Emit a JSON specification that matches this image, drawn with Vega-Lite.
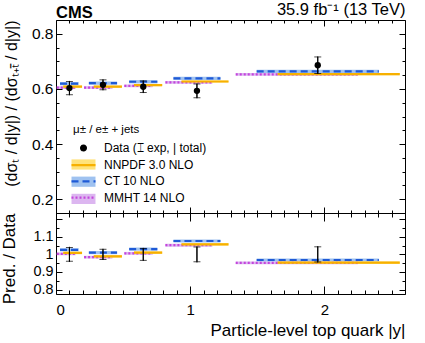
{
  "$schema": "https://vega.github.io/schema/vega-lite/v6.json",
  "padding": {"left": 0, "top": 1, "right": 5, "bottom": 3},
  "bounds": "flush",
  "spacing": 0,
  "config": {
    "font": "Liberation Sans",
    "view": {"stroke": "black", "strokeWidth": 1},
    "axis": {"domain": false, "grid": false, "tickColor": "black", "labelColor": "black", "titleColor": "black", "labelFont": "Liberation Sans", "titleFont": "Liberation Sans", "titleFontWeight": "normal", "tickWidth": 1}
  },
  "datasets": {
    "pred": [
      {"lo": 0, "hi": 0.2, "model": "MMHT 14 NLO", "val": 0.605, "dn": 0.600, "up": 0.610, "r": 1.003, "rdn": 0.995, "rup": 1.011},
      {"lo": 0.2, "hi": 0.5, "model": "MMHT 14 NLO", "val": 0.605, "dn": 0.600, "up": 0.610, "r": 0.984, "rdn": 0.976, "rup": 0.992},
      {"lo": 0.5, "hi": 0.8, "model": "MMHT 14 NLO", "val": 0.611, "dn": 0.606, "up": 0.616, "r": 1.006, "rdn": 0.998, "rup": 1.014},
      {"lo": 0.8, "hi": 1.3, "model": "MMHT 14 NLO", "val": 0.624, "dn": 0.619, "up": 0.629, "r": 1.052, "rdn": 1.044, "rup": 1.060},
      {"lo": 1.3, "hi": 2.6, "model": "MMHT 14 NLO", "val": 0.653, "dn": 0.648, "up": 0.658, "r": 0.952, "rdn": 0.944, "rup": 0.960},
      {"lo": 0, "hi": 0.2, "model": "CT 10 NLO", "val": 0.619, "dn": 0.613, "up": 0.625, "r": 1.026, "rdn": 1.017, "rup": 1.035},
      {"lo": 0.2, "hi": 0.5, "model": "CT 10 NLO", "val": 0.621, "dn": 0.615, "up": 0.627, "r": 1.010, "rdn": 1.001, "rup": 1.019},
      {"lo": 0.5, "hi": 0.8, "model": "CT 10 NLO", "val": 0.626, "dn": 0.620, "up": 0.632, "r": 1.030, "rdn": 1.021, "rup": 1.039},
      {"lo": 0.8, "hi": 1.3, "model": "CT 10 NLO", "val": 0.638, "dn": 0.632, "up": 0.644, "r": 1.076, "rdn": 1.067, "rup": 1.085},
      {"lo": 1.3, "hi": 2.6, "model": "CT 10 NLO", "val": 0.664, "dn": 0.658, "up": 0.670, "r": 0.968, "rdn": 0.959, "rup": 0.977},
      {"lo": 0, "hi": 0.2, "model": "NNPDF 3.0 NLO", "val": 0.608, "dn": 0.604, "up": 0.612, "r": 1.008, "rdn": 1.001, "rup": 1.015},
      {"lo": 0.2, "hi": 0.5, "model": "NNPDF 3.0 NLO", "val": 0.608, "dn": 0.604, "up": 0.612, "r": 0.989, "rdn": 0.982, "rup": 0.996},
      {"lo": 0.5, "hi": 0.8, "model": "NNPDF 3.0 NLO", "val": 0.614, "dn": 0.610, "up": 0.618, "r": 1.010, "rdn": 1.003, "rup": 1.017},
      {"lo": 0.8, "hi": 1.3, "model": "NNPDF 3.0 NLO", "val": 0.627, "dn": 0.623, "up": 0.631, "r": 1.057, "rdn": 1.050, "rup": 1.064},
      {"lo": 1.3, "hi": 2.6, "model": "NNPDF 3.0 NLO", "val": 0.654, "dn": 0.650, "up": 0.658, "r": 0.953, "rdn": 0.946, "rup": 0.960}
    ],
    "meas": [
      {"x": 0.1, "val": 0.603, "elo": 0.579, "ehi": 0.627, "tlo": 0.577, "thi": 0.629, "relo": 0.961, "rehi": 1.039, "rtlo": 0.957, "rthi": 1.043},
      {"x": 0.35, "val": 0.615, "elo": 0.597, "ehi": 0.633, "tlo": 0.595, "thi": 0.635, "relo": 0.971, "rehi": 1.029, "rtlo": 0.968, "rthi": 1.032},
      {"x": 0.65, "val": 0.608, "elo": 0.587, "ehi": 0.629, "tlo": 0.585, "thi": 0.631, "relo": 0.966, "rehi": 1.034, "rtlo": 0.963, "rthi": 1.037},
      {"x": 1.05, "val": 0.593, "elo": 0.568, "ehi": 0.618, "tlo": 0.566, "thi": 0.620, "relo": 0.958, "rehi": 1.042, "rtlo": 0.954, "rthi": 1.046},
      {"x": 1.95, "val": 0.686, "elo": 0.656, "ehi": 0.716, "tlo": 0.654, "thi": 0.718, "relo": 0.957, "rehi": 1.043, "rtlo": 0.953, "rthi": 1.047}
    ]
  },
  "vconcat": [
    {
      "width": 349,
      "height": 193,
      "title": {"text": "CMS", "anchor": "start", "fontSize": 16.5, "fontWeight": "bold", "font": "Liberation Sans", "offset": -20, "frame": "group"},
      "resolve": {"axis": {"x": "independent", "y": "independent"}},
      "layer": [
        {
          "data": {"name": "pred"},
          "transform": [
            {"calculate": "datum.lo + (datum.model == 'MMHT 14 NLO' ? 0.03 : datum.model == 'CT 10 NLO' ? 0.15 : 0.27) * (datum.hi - datum.lo)", "as": "xa"},
            {"calculate": "datum.xa + 0.7 * (datum.hi - datum.lo)", "as": "xb"}
          ],
          "mark": {"type": "rect"},
          "encoding": {
            "x": {"field": "xa", "type": "quantitative", "scale": {"domain": [0, 2.6], "nice": false, "zero": false},
              "axis": {"orient": "bottom", "title": null, "labels": false, "values": [0,0.1,0.2,0.3,0.4,0.5,0.6,0.7,0.8,0.9,1,1.1,1.2,1.3,1.4,1.5,1.6,1.7,1.8,1.9,2,2.1,2.2,2.3,2.4,2.5,2.6],
                "tickSize": {"condition": {"test": "abs(datum.value - round(datum.value)) < 0.001", "value": -6}, "value": -3}}},
            "x2": {"field": "xb"},
            "y": {"field": "dn", "type": "quantitative", "scale": {"domain": [0.15, 0.85], "nice": false, "zero": false},
              "axis": {"orient": "left", "title": "(dσₜ / d|y|) / (dσₜ₊ₜ̄ / d|y|)", "titleFontSize": 16, "titleAnchor": "end", "titlePadding": 12,
                "values": [0.2,0.25,0.3,0.35,0.4,0.45,0.5,0.55,0.6,0.65,0.7,0.75,0.8],
                "labelExpr": "abs(datum.value*5 - round(datum.value*5)) < 0.001 ? format(datum.value, '.1f') : ''",
                "labelFontSize": 15.5, "labelPadding": 9,
                "tickSize": {"condition": {"test": "abs(datum.value*5 - round(datum.value*5)) < 0.001", "value": -6}, "value": -3}}},
            "y2": {"field": "up"},
            "fill": {"field": "model", "type": "nominal",
              "scale": {"domain": ["NNPDF 3.0 NLO", "CT 10 NLO", "MMHT 14 NLO"], "range": ["#ffe27a", "#9fc2f0", "#dcb6f0"]},
              "legend": {"orient": "none", "legendX": 17, "legendY": 137, "padding": 0, "title": null, "labelFontSize": 12, "labelExpr": "''",
                "symbolType": "M-2,-0.85H2V0.85H-2Z", "symbolSize": 144, "symbolStrokeWidth": 2.2, "symbolStrokeColor": "transparent", "symbolOpacity": 1, "symbolOffset": 3, "rowPadding": -1.8, "labelOffset": 13,
                "encode": {"symbols": {"update": {"stroke": {"value": "transparent"}}}}}}
          }
        },
        {
          "data": {"name": "pred"},
          "transform": [
            {"calculate": "datum.lo + (datum.model == 'MMHT 14 NLO' ? 0.03 : datum.model == 'CT 10 NLO' ? 0.15 : 0.27) * (datum.hi - datum.lo)", "as": "xa"},
            {"calculate": "datum.xa + 0.7 * (datum.hi - datum.lo)", "as": "xb"}
          ],
          "mark": {"type": "rule"},
          "encoding": {
            "x": {"field": "xa", "type": "quantitative",
              "axis": {"orient": "top", "title": "35.9 fb⁻¹ (13 TeV)", "titleAnchor": "end", "titleFontSize": 16.5, "titlePadding": 2, "labels": false,
                "values": [0,0.1,0.2,0.3,0.4,0.5,0.6,0.7,0.8,0.9,1,1.1,1.2,1.3,1.4,1.5,1.6,1.7,1.8,1.9,2,2.1,2.2,2.3,2.4,2.5,2.6],
                "tickSize": {"condition": {"test": "abs(datum.value - round(datum.value)) < 0.001", "value": -6}, "value": -3}}},
            "x2": {"field": "xb"},
            "y": {"field": "val", "type": "quantitative",
              "axis": {"orient": "right", "title": null, "labels": false,
                "values": [0.2,0.25,0.3,0.35,0.4,0.45,0.5,0.55,0.6,0.65,0.7,0.75,0.8],
                "tickSize": {"condition": {"test": "abs(datum.value*5 - round(datum.value*5)) < 0.001", "value": -6}, "value": -3}}},
            "stroke": {"field": "model", "type": "nominal",
              "scale": {"domain": ["Data (⌶ exp, | total)", "NNPDF 3.0 NLO", "CT 10 NLO", "MMHT 14 NLO"], "range": ["black", "#f7b000", "#1f5ad6", "#c445dc"]},
              "legend": {"orient": "none", "legendX": 17, "legendY": 103.5, "padding": 0, "title": "μ± / e± + jets", "titleFontSize": 11.5, "titleFontWeight": "normal", "titleFont": "Liberation Sans", "titlePadding": 5.5,
                "labelFontSize": 12, "labelFont": "Liberation Sans", "labelColor": "black", "symbolType": "M-2,0H2", "symbolSize": 144, "symbolStrokeWidth": 2.2, "symbolOffset": 3, "rowPadding": 2.2, "labelOffset": 13,
                "encode": {"symbols": {"update": {
                  "shape": {"signal": "datum.value == 'Data (⌶ exp, | total)' ? 'M-0.4,0A0.4,0.4 0 1,0 0.4,0A0.4,0.4 0 1,0 -0.4,0Z' : 'M-2,0H2'"},
                  "fill": {"signal": "datum.value == 'Data (⌶ exp, | total)' ? 'black' : 'transparent'"},
                  "strokeDash": {"signal": "datum.value == 'CT 10 NLO' ? [7,4] : datum.value == 'MMHT 14 NLO' ? [2,2] : [1,0]"}
                }}}}},
            "strokeDash": {"field": "model", "type": "nominal", "scale": {"domain": ["NNPDF 3.0 NLO", "CT 10 NLO", "MMHT 14 NLO"], "range": [[1, 0], [7, 4], [2, 2]]}, "legend": null},
            "strokeWidth": {"field": "model", "type": "nominal", "scale": {"domain": ["NNPDF 3.0 NLO", "CT 10 NLO", "MMHT 14 NLO"], "range": [2.2, 2.2, 2.8]}, "legend": null}
          }
        },
        {
          "data": {"name": "meas"},
          "mark": {"type": "rule", "color": "black", "strokeWidth": 1},
          "encoding": {
            "x": {"field": "x", "type": "quantitative", "axis": null},
            "y": {"field": "tlo", "type": "quantitative", "axis": null},
            "y2": {"field": "thi"}
          }
        },
        {
          "data": {"name": "meas"},
          "mark": {"type": "errorbar", "ticks": {"size": 7, "thickness": 1, "color": "black"}, "rule": {"color": "black", "strokeWidth": 1}},
          "encoding": {
            "x": {"field": "x", "type": "quantitative", "axis": null},
            "y": {"field": "elo", "type": "quantitative", "axis": null},
            "y2": {"field": "ehi"}
          }
        },
        {
          "data": {"name": "meas"},
          "mark": {"type": "point", "shape": "circle", "filled": true, "color": "black", "opacity": 1, "size": 40},
          "encoding": {
            "x": {"field": "x", "type": "quantitative", "axis": null},
            "y": {"field": "val", "type": "quantitative", "axis": null}
          }
        }
      ]
    },
    {
      "width": 349,
      "height": 81,
      "resolve": {"axis": {"x": "independent", "y": "independent"}},
      "layer": [
        {
          "data": {"name": "pred"},
          "transform": [
            {"calculate": "datum.lo + (datum.model == 'MMHT 14 NLO' ? 0.03 : datum.model == 'CT 10 NLO' ? 0.15 : 0.27) * (datum.hi - datum.lo)", "as": "xa"},
            {"calculate": "datum.xa + 0.7 * (datum.hi - datum.lo)", "as": "xb"}
          ],
          "mark": {"type": "rect"},
          "encoding": {
            "x": {"field": "xa", "type": "quantitative", "scale": {"domain": [0, 2.6], "nice": false, "zero": false},
              "axis": {"orient": "bottom", "title": "Particle-level top quark |y|", "titleAnchor": "end", "titleFontSize": 17, "titlePadding": 5,
                "values": [0,0.1,0.2,0.3,0.4,0.5,0.6,0.7,0.8,0.9,1,1.1,1.2,1.3,1.4,1.5,1.6,1.7,1.8,1.9,2,2.1,2.2,2.3,2.4,2.5,2.6],
                "labelExpr": "abs(datum.value - round(datum.value)) < 0.001 ? format(datum.value, 'd') : ''",
                "labelFontSize": 15, "labelPadding": 16,
                "tickSize": {"condition": {"test": "abs(datum.value - round(datum.value)) < 0.001", "value": -8}, "value": -4}}},
            "x2": {"field": "xb"},
            "y": {"field": "rdn", "type": "quantitative", "scale": {"domain": [0.775, 1.235], "nice": false, "zero": false},
              "axis": {"orient": "left", "title": "Pred. / Data", "titleFontSize": 17, "titleAnchor": "end", "titlePadding": 14,
                "values": [0.8,0.85,0.9,0.95,1,1.05,1.1,1.15,1.2],
                "labelExpr": "abs(datum.value*10 - round(datum.value*10)) < 0.001 && datum.value < 1.15 ? format(datum.value, '~g') : ''",
                "labelFontSize": 14.4, "labelPadding": 9,
                "tickSize": {"condition": {"test": "abs(datum.value*10 - round(datum.value*10)) < 0.001", "value": -6}, "value": -3}}},
            "y2": {"field": "rup"},
            "fill": {"field": "model", "type": "nominal", "scale": {"domain": ["NNPDF 3.0 NLO", "CT 10 NLO", "MMHT 14 NLO"], "range": ["#ffe27a", "#9fc2f0", "#dcb6f0"]}, "legend": null}
          }
        },
        {
          "mark": {"type": "rule", "color": "black", "strokeWidth": 1},
          "encoding": {"y": {"datum": 1, "type": "quantitative", "axis": null}}
        },
        {
          "data": {"name": "pred"},
          "transform": [
            {"calculate": "datum.lo + (datum.model == 'MMHT 14 NLO' ? 0.03 : datum.model == 'CT 10 NLO' ? 0.15 : 0.27) * (datum.hi - datum.lo)", "as": "xa"},
            {"calculate": "datum.xa + 0.7 * (datum.hi - datum.lo)", "as": "xb"}
          ],
          "mark": {"type": "rule"},
          "encoding": {
            "x": {"field": "xa", "type": "quantitative",
              "axis": {"orient": "top", "title": null, "labels": false,
                "values": [0,0.1,0.2,0.3,0.4,0.5,0.6,0.7,0.8,0.9,1,1.1,1.2,1.3,1.4,1.5,1.6,1.7,1.8,1.9,2,2.1,2.2,2.3,2.4,2.5,2.6],
                "tickSize": {"condition": {"test": "abs(datum.value - round(datum.value)) < 0.001", "value": -8}, "value": -4}}},
            "x2": {"field": "xb"},
            "y": {"field": "r", "type": "quantitative",
              "axis": {"orient": "right", "title": null, "labels": false,
                "values": [0.8,0.85,0.9,0.95,1,1.05,1.1,1.15,1.2],
                "tickSize": {"condition": {"test": "abs(datum.value*10 - round(datum.value*10)) < 0.001", "value": -6}, "value": -3}}},
            "stroke": {"field": "model", "type": "nominal", "scale": {"domain": ["NNPDF 3.0 NLO", "CT 10 NLO", "MMHT 14 NLO"], "range": ["#f7b000", "#1f5ad6", "#c445dc"]}, "legend": null},
            "strokeDash": {"field": "model", "type": "nominal", "scale": {"domain": ["NNPDF 3.0 NLO", "CT 10 NLO", "MMHT 14 NLO"], "range": [[1, 0], [7, 4], [2, 2]]}, "legend": null},
            "strokeWidth": {"field": "model", "type": "nominal", "scale": {"domain": ["NNPDF 3.0 NLO", "CT 10 NLO", "MMHT 14 NLO"], "range": [2.2, 2.2, 2.8]}, "legend": null}
          }
        },
        {
          "data": {"name": "meas"},
          "mark": {"type": "rule", "color": "black", "strokeWidth": 1},
          "encoding": {
            "x": {"field": "x", "type": "quantitative", "axis": null},
            "y": {"field": "rtlo", "type": "quantitative", "axis": null},
            "y2": {"field": "rthi"}
          }
        },
        {
          "data": {"name": "meas"},
          "mark": {"type": "errorbar", "ticks": {"size": 7, "thickness": 1, "color": "black"}, "rule": {"color": "black", "strokeWidth": 1}},
          "encoding": {
            "x": {"field": "x", "type": "quantitative", "axis": null},
            "y": {"field": "relo", "type": "quantitative", "axis": null},
            "y2": {"field": "rehi"}
          }
        }
      ]
    }
  ]
}
